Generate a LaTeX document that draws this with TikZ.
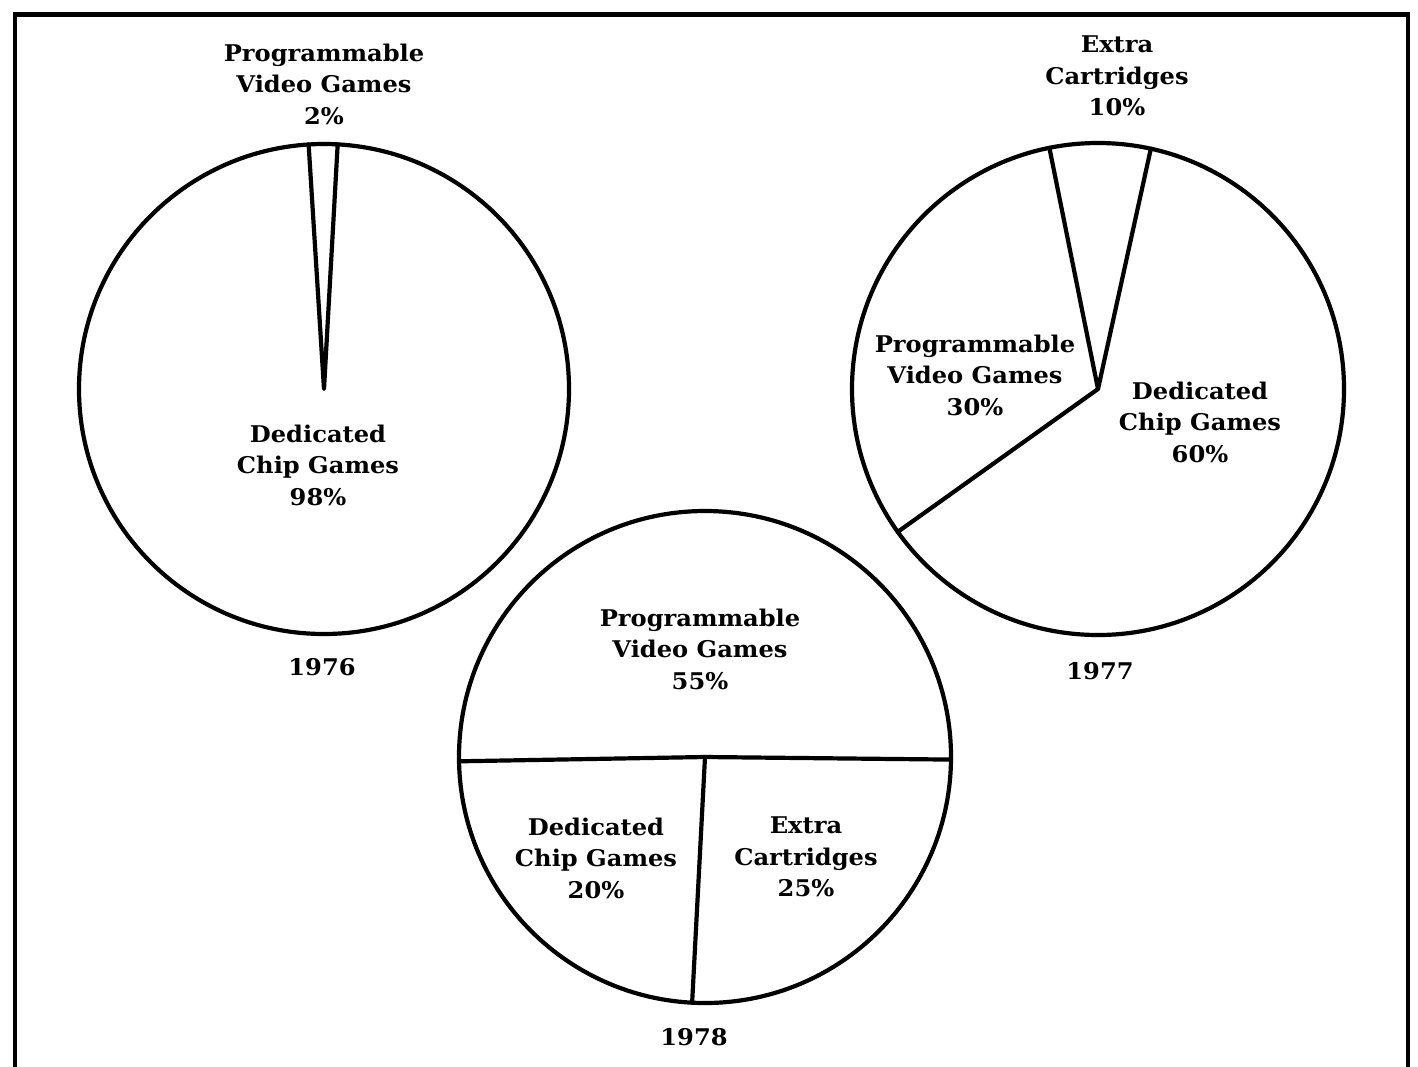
\documentclass[tikz,border=0pt]{standalone}
\usepackage{fontspec}
\newfontfamily\labfont[FakeStretch=1.05]{DejaVu Serif Bold}
\begin{document}
\begin{tikzpicture}[x=1pt,y=1pt,
  lab/.style={align=center,inner sep=0pt,font={\labfont\fontsize{23}{31.5}\selectfont}},
  pieline/.style={line width=4.2pt,line join=round,line cap=round},
  frameline/.style={line width=4.8pt}]
\useasboundingbox (0,0) rectangle (1418,-1066);
\fill[white] (0,0) rectangle (1418,-1066);
% frame
\coordinate (FBL) at (15,-1075);
\coordinate (FTL) at (15,-14.5);
\coordinate (FTR) at (1408,-14.5);
\coordinate (FBR) at (1408,-1075);
\draw[frameline] (FBL) -- (FTL) -- (FTR) -- (FBR);
% 1976
\coordinate (C1) at (324,-389);
\draw[pieline] (C1) circle[radius=245];
\draw[pieline] (C1) ++(93.6:245) -- (C1) -- ++(86.8:245);
\node[lab] (p76a) at (324,-84) {Programmable\\Video Games\\2\%};
\node[lab] (p76b) at (318,-465) {Dedicated\\Chip Games\\98\%};
\node[lab] (y76) at (322,-667) {1976};
% 1977
\coordinate (C2) at (1098,-389);
\draw[pieline] (C2) circle[radius=246];
\draw[pieline] (C2) ++(101.4:246) -- (C2) -- ++(77.6:246);
\draw[pieline] (C2) -- ++(215.5:246);
\node[lab] (p77a) at (1117,-76) {Extra\\Cartridges\\10\%};
\node[lab] (p77b) at (975,-375) {Programmable\\Video Games\\30\%};
\node[lab] (p77c) at (1200,-422) {Dedicated\\Chip Games\\60\%};
\node[lab] (y77) at (1100,-671) {1977};
% 1978
\coordinate (C3) at (705,-757);
\draw[pieline] (C3) circle[radius=246];
\draw[pieline] (C3) ++(181:246) -- (C3) -- ++(-0.6:246);
\draw[pieline] (C3) -- ++(267:246);
\node[lab] (p78a) at (700,-649) {Programmable\\Video Games\\55\%};
\node[lab] (p78b) at (596,-858) {Dedicated\\Chip Games\\20\%};
\node[lab] (p78c) at (806,-857) {Extra\\Cartridges\\25\%};
\node[lab] (y78) at (694,-1037) {1978};
\end{tikzpicture}
\end{document}
